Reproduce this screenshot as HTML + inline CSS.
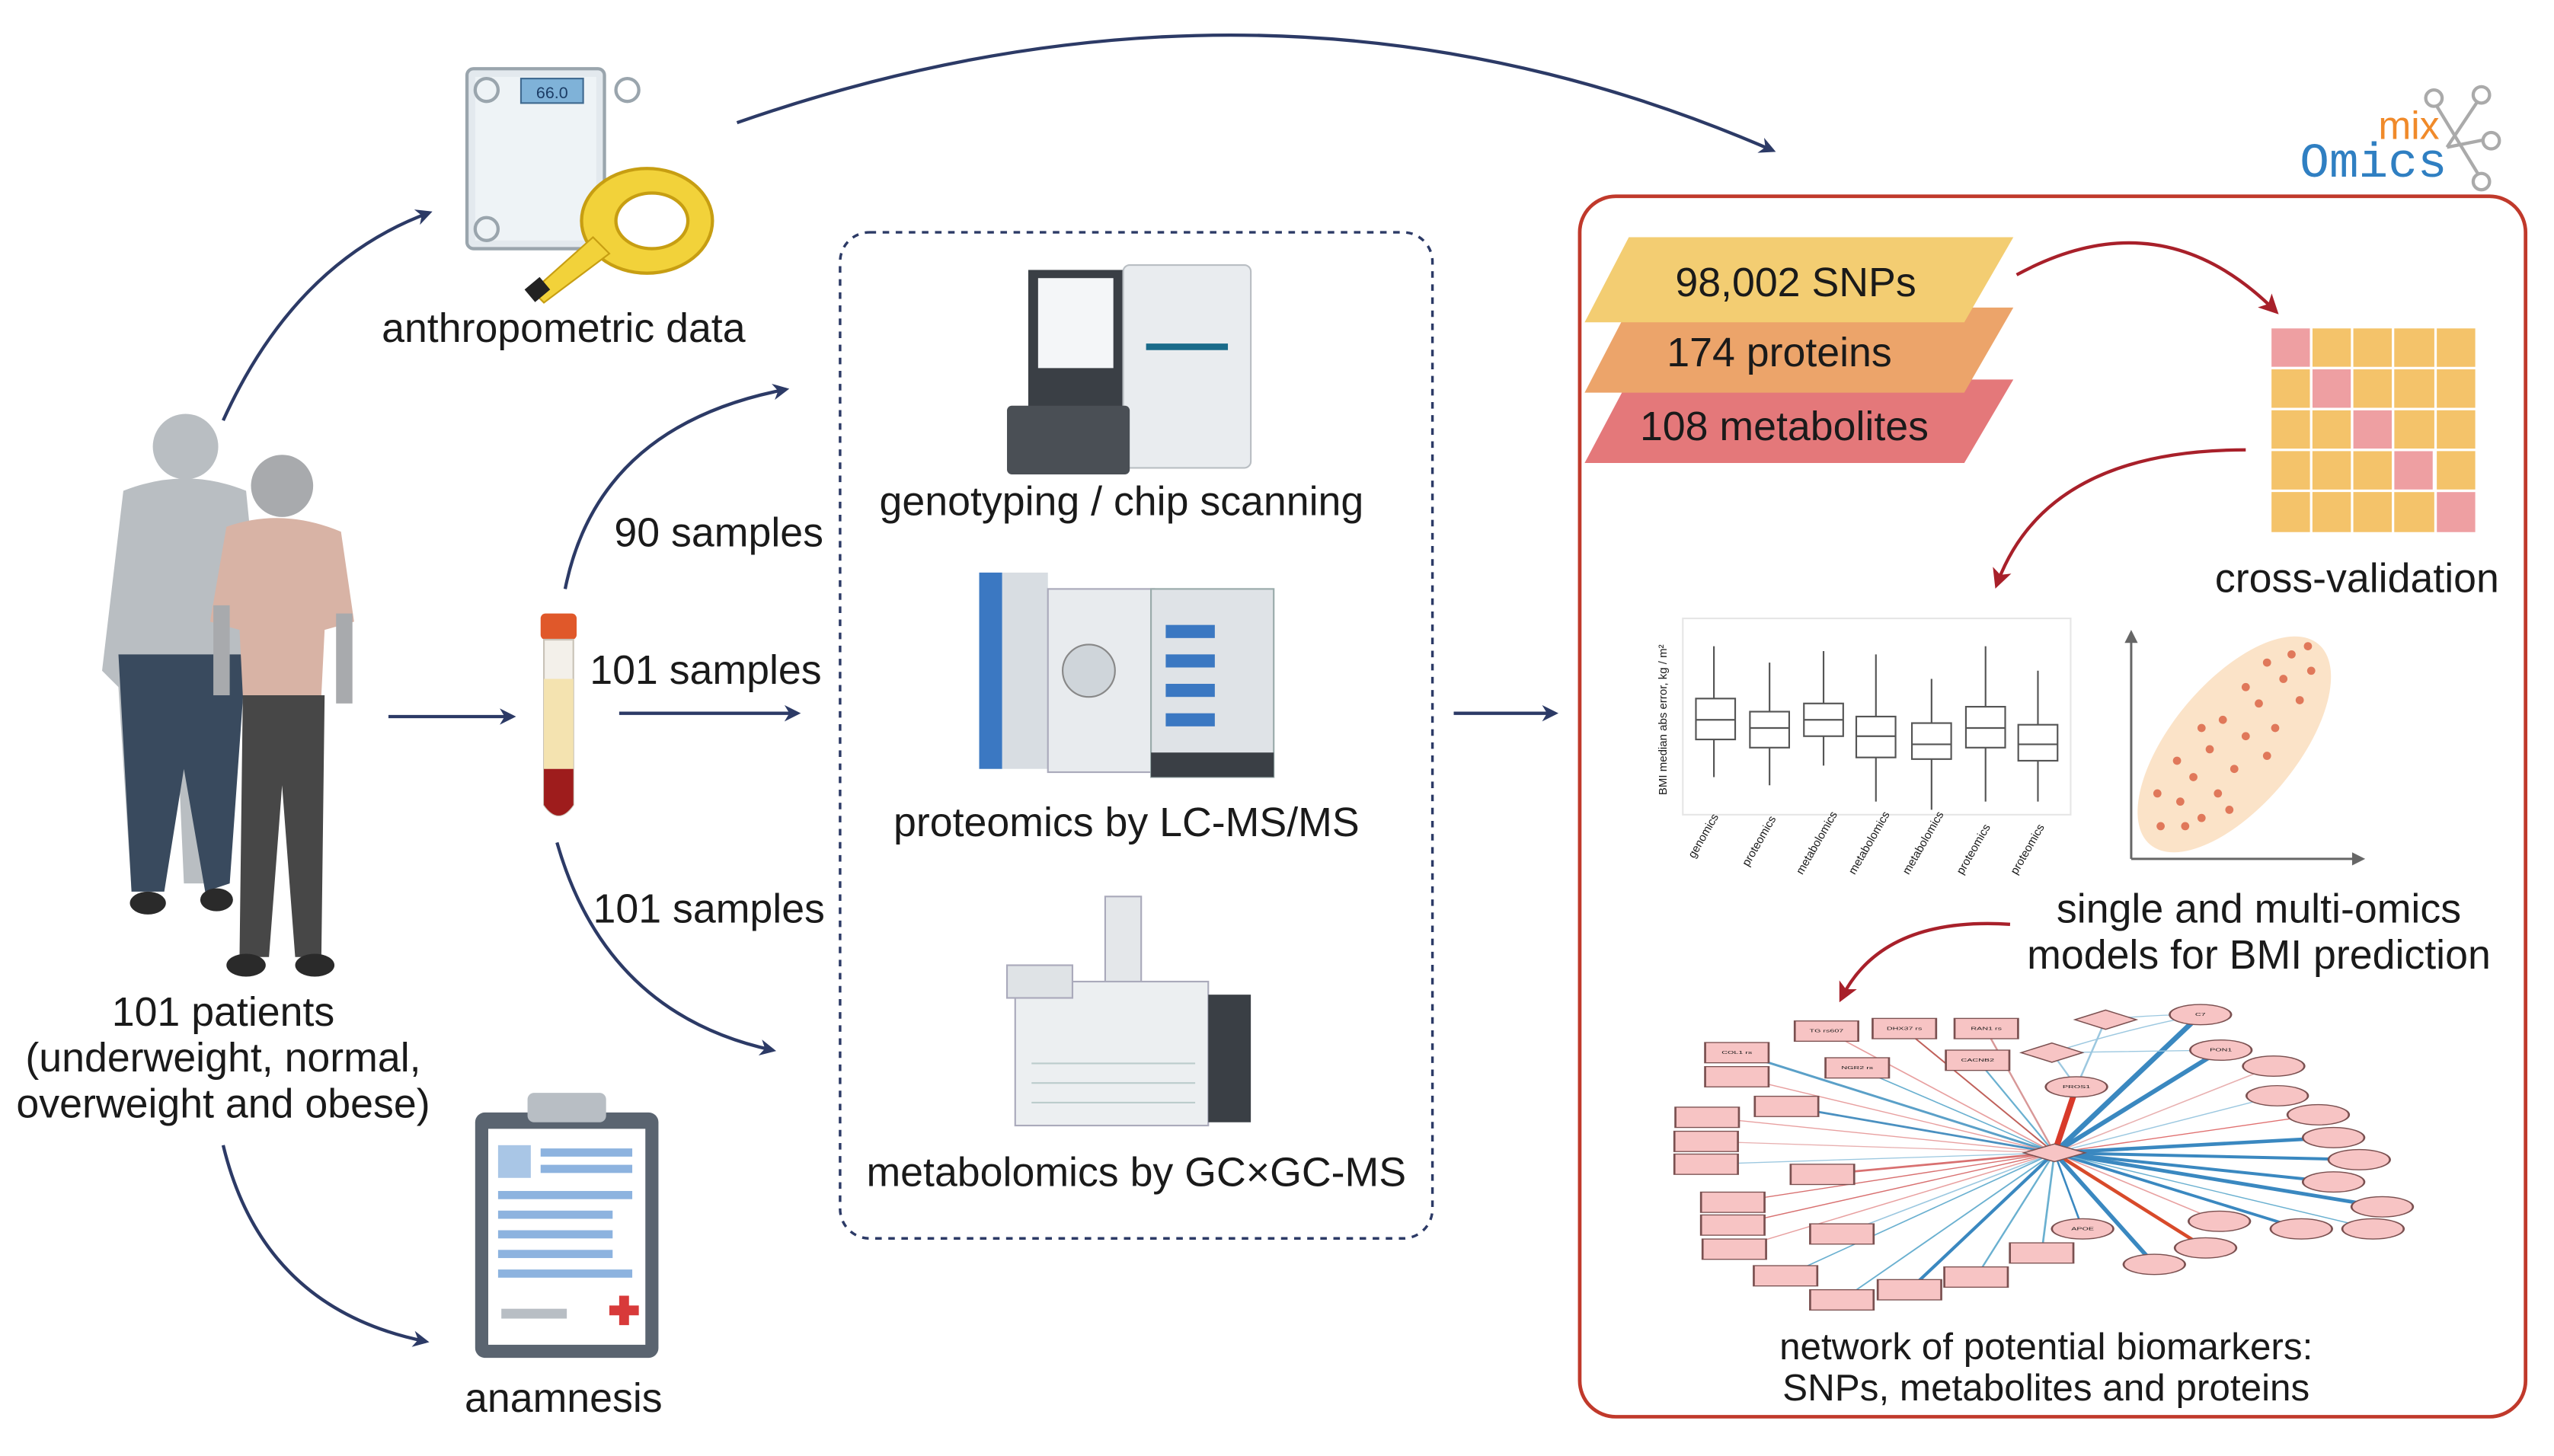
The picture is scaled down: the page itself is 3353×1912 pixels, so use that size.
<!DOCTYPE html>
<html><head><meta charset="utf-8"><style>
html,body{margin:0;padding:0;background:#fff;width:3353px;height:1912px;overflow:hidden}
svg{display:block}
text{font-family:"Liberation Sans",sans-serif;fill:#1a1a1a}
</style></head><body>
<svg width="3353" height="1912" viewBox="0 0 1560 890" xmlns="http://www.w3.org/2000/svg">
<defs>
<marker id="ab" markerWidth="10" markerHeight="10" refX="8" refY="5" orient="auto" markerUnits="userSpaceOnUse"><path d="M0,0 L10,5 L0,10 L3,5 z" fill="#2c3a66"/></marker>
<marker id="ar" markerWidth="12" markerHeight="12" refX="9" refY="6" orient="auto" markerUnits="userSpaceOnUse"><path d="M0,0 L12,6 L0,12 L3,6 z" fill="#a8202a"/></marker>
</defs>

<g fill="none" stroke="#2c3a66" stroke-width="2" marker-end="url(#ab)">
<path d="M450,75 Q780,-40 1083,92"/>
<path d="M136,257 Q180,160 262,130"/>
<path d="M136,700 Q160,800 260,820"/>
<path d="M237,438 L313,438"/>
<path d="M345,360 Q365,260 480,238"/>
<path d="M378,436 L487,436"/>
<path d="M340,515 Q370,620 472,642"/>
<path d="M888,436 L950,436"/>
</g>

<!-- scale -->
<rect x="285" y="42" width="84" height="110" rx="4" fill="#e3e9ee" stroke="#9aa5ad" stroke-width="2"/>
<rect x="290" y="47" width="74" height="100" fill="#eef3f6"/>
<circle cx="297" cy="55" r="7" fill="none" stroke="#9aa5ad" stroke-width="2"/>
<circle cx="383" cy="55" r="7" fill="none" stroke="#9aa5ad" stroke-width="2"/>
<circle cx="297" cy="140" r="7" fill="none" stroke="#9aa5ad" stroke-width="2"/>
<rect x="318" y="48" width="38" height="15" fill="#7fb2d8" stroke="#406a90"/>
<text x="337" y="60" font-size="10" text-anchor="middle" style="fill:#1c3d66">66.0</text>
<ellipse cx="395" cy="135" rx="40" ry="32" fill="#f2d23a" stroke="#c79e12" stroke-width="2"/>
<ellipse cx="398" cy="135" rx="22" ry="17" fill="#fff" stroke="#c79e12" stroke-width="2"/>
<path d="M362,145 L325,178 L332,185 L372,155 z" fill="#f2d23a" stroke="#c79e12"/>
<rect x="322" y="172" width="12" height="10" fill="#222" transform="rotate(-40 328 177)"/>
<text x="344" y="209" font-size="25" text-anchor="middle">anthropometric data</text>

<!-- people -->
<g>
<circle cx="113" cy="273" r="20" fill="#b9bec2"/>
<path d="M75,300 Q113,285 150,300 L160,400 L140,410 L138,520 L128,540 L112,540 L108,450 L100,540 L80,545 L72,420 L62,410 Z" fill="#b9bec2"/>
<path d="M72,400 L150,400 L140,540 L125,545 L112,470 L100,545 L80,545 Z" fill="#394a5e"/>
<ellipse cx="90" cy="552" rx="11" ry="7" fill="#2a2a2a"/>
<ellipse cx="132" cy="550" rx="10" ry="7" fill="#2a2a2a"/>
<circle cx="172" cy="297" r="19" fill="#a8aaad"/>
<path d="M138,322 Q172,310 208,325 L216,380 L198,385 L196,425 L148,425 L146,385 L128,380 Z" fill="#d8b3a5"/>
<rect x="130" y="370" width="10" height="55" fill="#a8aaad"/>
<rect x="205" y="375" width="10" height="55" fill="#a8aaad"/>
<path d="M148,425 L198,425 L196,585 L180,585 L172,480 L164,585 L146,585 Z" fill="#474747"/>
<ellipse cx="150" cy="590" rx="12" ry="7" fill="#2a2a2a"/>
<ellipse cx="192" cy="590" rx="12" ry="7" fill="#2a2a2a"/>
</g>
<text x="136" y="627" font-size="25" text-anchor="middle">101 patients</text>
<text x="136" y="655" font-size="25" text-anchor="middle">(underweight, normal,</text>
<text x="136" y="683" font-size="25" text-anchor="middle">overweight and obese)</text>

<!-- tube -->
<rect x="330" y="375" width="22" height="16" rx="3" fill="#e0582a"/>
<path d="M332,391 L350,391 L350,492 Q341,505 332,492 Z" fill="#f3f0ea" stroke="#c9c3b8"/>
<path d="M332,415 L350,415 L350,470 L332,470 Z" fill="#f4e3b0"/>
<path d="M332,470 L350,470 L350,492 Q341,505 332,492 Z" fill="#9e1c1c"/>
<text x="375" y="334" font-size="25">90 samples</text>
<text x="360" y="418" font-size="25">101 samples</text>
<text x="362" y="564" font-size="25">101 samples</text>

<!-- clipboard -->
<rect x="290" y="680" width="112" height="150" rx="6" fill="#5a6470"/>
<rect x="298" y="690" width="96" height="132" fill="#fff"/>
<rect x="322" y="668" width="48" height="18" rx="4" fill="#b8bec4"/>
<rect x="304" y="700" width="20" height="20" fill="#a9c6e6"/>
<g fill="#8db3df"><rect x="330" y="702" width="56" height="5"/><rect x="330" y="712" width="56" height="5"/><rect x="304" y="728" width="82" height="5"/><rect x="304" y="740" width="70" height="5"/><rect x="304" y="752" width="70" height="5"/><rect x="304" y="764" width="70" height="5"/><rect x="304" y="776" width="82" height="5"/></g>
<rect x="306" y="800" width="40" height="6" fill="#b8bec4"/>
<path d="M372,798 h6 v-6 h6 v6 h6 v6 h-6 v6 h-6 v-6 h-6 z" fill="#d83a3a"/>
<text x="344" y="863" font-size="25" text-anchor="middle">anamnesis</text>

<!-- dashed box -->
<rect x="513" y="142" width="362" height="615" rx="18" fill="none" stroke="#2c3a66" stroke-width="1.6" stroke-dasharray="4,4"/>
<rect x="628" y="165" width="58" height="85" fill="#3a3f45"/>
<rect x="634" y="170" width="46" height="55" fill="#f4f6f8"/>
<rect x="686" y="162" width="78" height="124" rx="4" fill="#e9ecef" stroke="#b9bec3"/>
<rect x="615" y="248" width="75" height="42" rx="3" fill="#4a4f55"/>
<rect x="700" y="210" width="50" height="4" fill="#1a6b8a"/>
<text x="685" y="315" font-size="25" text-anchor="middle">genotyping / chip scanning</text>
<rect x="598" y="350" width="42" height="120" fill="#d8dde2"/>
<rect x="598" y="350" width="14" height="120" fill="#3b78c2"/>
<rect x="640" y="360" width="65" height="112" fill="#e8ebee" stroke="#aab"/>
<circle cx="665" cy="410" r="16" fill="#cfd5da" stroke="#888"/>
<rect x="703" y="360" width="75" height="115" fill="#dfe3e7" stroke="#9aa"/>
<g fill="#3b78c2"><rect x="712" y="382" width="30" height="8"/><rect x="712" y="400" width="30" height="8"/><rect x="712" y="418" width="30" height="8"/><rect x="712" y="436" width="30" height="8"/></g>
<rect x="703" y="460" width="75" height="15" fill="#3a3f45"/>
<text x="688" y="511" font-size="25" text-anchor="middle">proteomics by LC-MS/MS</text>
<rect x="675" y="548" width="22" height="60" fill="#e4e7ea" stroke="#aab"/>
<rect x="620" y="600" width="118" height="88" fill="#eceff1" stroke="#aab"/>
<rect x="738" y="608" width="26" height="78" fill="#3a3f45"/>
<g stroke="#bcc" fill="none"><path d="M630,650 h100 M630,662 h100 M630,674 h100"/></g>
<rect x="615" y="590" width="40" height="20" fill="#dfe3e6" stroke="#aab"/>
<text x="694" y="725" font-size="25" text-anchor="middle">metabolomics by GC×GC-MS</text>

<!-- red box -->
<rect x="965" y="120" width="578" height="746" rx="22" fill="none" stroke="#c0392b" stroke-width="2.2"/>
<g stroke="#aaa" stroke-width="2" fill="#fff">
<line x1="1487" y1="62" x2="1515" y2="108"/><line x1="1515" y1="60" x2="1495" y2="90"/><line x1="1495" y1="90" x2="1520" y2="85"/>
<circle cx="1487" cy="60" r="5"/><circle cx="1516" cy="58" r="5"/><circle cx="1522" cy="86" r="5"/><circle cx="1516" cy="111" r="5"/>
</g>
<text x="1453" y="85" font-size="24" style="fill:#f08a2a">mix</text>
<text x="1405" y="108" font-size="30" style="fill:#2f7fc2;font-family:'Liberation Mono',monospace">Omics</text>

<path d="M995,232 L1230,232 L1200,283 L968,283 Z" fill="#e4787a"/>
<path d="M995,188 L1230,188 L1200,240 L968,240 Z" fill="#eca46a"/>
<path d="M995,145 L1230,145 L1200,197 L968,197 Z" fill="#f3cd72"/>
<text x="1097" y="181" font-size="25" text-anchor="middle">98,002 SNPs</text>
<text x="1087" y="224" font-size="25" text-anchor="middle">174 proteins</text>
<text x="1090" y="269" font-size="25" text-anchor="middle">108 metabolites</text>

<g fill="none" stroke="#a8202a" stroke-width="2" marker-end="url(#ar)">
<path d="M1232,168 Q1320,120 1390,190"/>
<path d="M1372,275 Q1250,275 1220,357"/>
<path d="M1228,565 Q1150,560 1125,610"/>
</g>

<g stroke="#fff" stroke-width="1.5">
<rect x="1387" y="200" width="126" height="126" fill="#f4c36a"/>
<rect x="1387" y="200" width="25" height="25" fill="#ee9fa2"/>
<rect x="1412" y="225" width="25" height="25" fill="#ee9fa2"/>
<rect x="1437" y="250" width="25" height="25" fill="#ee9fa2"/>
<rect x="1462" y="275" width="25" height="25" fill="#ee9fa2"/>
<rect x="1488" y="300" width="25" height="26" fill="#ee9fa2"/>
<path d="M1412,200 v126 M1437,200 v126 M1462,200 v126 M1488,200 v126 M1387,225 h126 M1387,250 h126 M1387,275 h126 M1387,300 h126" fill="none"/>
</g>
<text x="1440" y="362" font-size="25" text-anchor="middle">cross-validation</text>

<rect x="1028" y="378" width="237" height="120" fill="#fff" stroke="#e6e6e6"/>
<text x="1018" y="440" font-size="7" transform="rotate(-90 1018 440)" text-anchor="middle">BMI median abs error, kg / m²</text>
<g stroke="#555" stroke-width="1" fill="#fff">
<path d="M1047,395 v80 M1081,405 v75 M1114,398 v70 M1146,400 v90 M1180,415 v80 M1213,395 v95 M1245,410 v80"/>
<rect x="1036" y="427" width="24" height="25"/><rect x="1069" y="435" width="24" height="22"/><rect x="1102" y="430" width="24" height="20"/>
<rect x="1134" y="438" width="24" height="25"/><rect x="1168" y="442" width="24" height="22"/><rect x="1201" y="432" width="24" height="25"/><rect x="1233" y="443" width="24" height="22"/>
<path d="M1036,440 h24 M1069,445 h24 M1102,440 h24 M1134,450 h24 M1168,455 h24 M1201,445 h24 M1233,455 h24"/>
</g>
<g font-size="7" style="fill:#444">
<text transform="translate(1035,525) rotate(-60)">genomics</text>
<text transform="translate(1068,530) rotate(-60)">proteomics</text>
<text transform="translate(1101,535) rotate(-60)">metabolomics</text>
<text transform="translate(1133,535) rotate(-60)">metabolomics</text>
<text transform="translate(1166,535) rotate(-60)">metabolomics</text>
<text transform="translate(1199,535) rotate(-60)">proteomics</text>
<text transform="translate(1232,535) rotate(-60)">proteomics</text>
</g>
<g stroke="#666" stroke-width="1.4" fill="none"><path d="M1302,525 V390 M1302,525 H1440"/></g>
<path d="M1298,393 l4,-8 l4,8 z M1437,521 l8,4 l-8,4 z" fill="#666"/>
<ellipse cx="1365" cy="455" rx="80" ry="38" transform="rotate(-50 1365 455)" fill="#fbe3c8"/>
<g fill="#e0785a">
<circle cx="1320" cy="505" r="2.5"/><circle cx="1332" cy="490" r="2.5"/><circle cx="1318" cy="485" r="2.5"/><circle cx="1345" cy="500" r="2.5"/><circle cx="1340" cy="475" r="2.5"/><circle cx="1355" cy="485" r="2.5"/><circle cx="1330" cy="465" r="2.5"/><circle cx="1350" cy="458" r="2.5"/><circle cx="1365" cy="470" r="2.5"/><circle cx="1372" cy="450" r="2.5"/><circle cx="1358" cy="440" r="2.5"/><circle cx="1380" cy="430" r="2.5"/><circle cx="1390" cy="445" r="2.5"/><circle cx="1372" cy="420" r="2.5"/><circle cx="1395" cy="415" r="2.5"/><circle cx="1405" cy="428" r="2.5"/><circle cx="1400" cy="400" r="2.5"/><circle cx="1412" cy="410" r="2.5"/><circle cx="1385" cy="405" r="2.5"/><circle cx="1345" cy="445" r="2.5"/><circle cx="1335" cy="505" r="2.5"/><circle cx="1362" cy="495" r="2.5"/><circle cx="1385" cy="462" r="2.5"/><circle cx="1410" cy="395" r="2.5"/>
</g>
<text x="1380" y="564" font-size="25" text-anchor="middle">single and multi-omics</text>
<text x="1380" y="592" font-size="25" text-anchor="middle">models for BMI prediction</text>

<!-- network -->
<g transform="translate(1000,604.7) scale(0.313,0.155)">
<g fill="none" stroke-width="4">
<path stroke="#e8a0a0" d="M815,645 L370,165"/><path stroke="#c0605a" d="M815,645 L520,155"/><path stroke="#d89898" d="M815,645 L680,155"/>
<path stroke="#5aa0c8" stroke-width="8" d="M815,645 L195,250"/><path stroke="#6ab0d0" d="M815,645 L428,310"/><path stroke="#6ab0d0" d="M815,645 L665,280"/>
<path stroke="#e8a0a0" d="M815,645 L195,345"/><path stroke="#4a90c0" stroke-width="8" d="M815,645 L292,462"/><path stroke="#e8a0a0" d="M815,645 L137,505"/>
<path stroke="#e8b0b0" d="M815,645 L135,600"/><path stroke="#9cc8e0" d="M815,645 L135,690"/><path stroke="#d87070" stroke-width="8" d="M815,645 L362,730"/>
<path stroke="#d87070" d="M815,645 L187,840"/><path stroke="#d87070" d="M815,645 L187,930"/><path stroke="#e8a0a0" d="M815,645 L190,1025"/>
<path stroke="#9cc8e0" d="M815,645 L400,965"/><path stroke="#6ab0d0" d="M815,645 L290,1130"/><path stroke="#6ab0d0" d="M815,645 L400,1225"/>
<path stroke="#3a88c0" stroke-width="8" d="M815,645 L532,1185"/><path stroke="#6ab0d0" d="M815,645 L662,1135"/><path stroke="#6ab0d0" d="M815,645 L790,1040"/>
<path stroke="#3a88c0" stroke-width="13" d="M815,645 L1100,100"/><path stroke="#3a88c0" stroke-width="13" d="M815,645 L1140,240"/><path stroke="#e8b0b0" d="M815,645 L1243,303"/>
<path stroke="#9cc8e0" d="M815,645 L1250,420"/><path stroke="#e07070" d="M815,645 L1330,495"/><path stroke="#3a88c0" stroke-width="14" d="M815,645 L1360,585"/>
<path stroke="#3a88c0" stroke-width="12" d="M815,645 L1410,672"/><path stroke="#3a88c0" stroke-width="12" d="M815,645 L1360,760"/><path stroke="#3a88c0" stroke-width="14" d="M815,645 L1455,858"/>
<path stroke="#e8a0a0" d="M815,645 L1137,915"/><path stroke="#3a88c0" stroke-width="10" d="M815,645 L1297,945"/><path stroke="#6ab0d0" d="M815,645 L1437,945"/>
<path stroke="#d84a2a" stroke-width="10" d="M815,645 L1110,1020"/><path stroke="#3a88c0" stroke-width="10" d="M815,645 L1010,1085"/><path stroke="#3a88c0" d="M815,645 L870,945"/>
<path stroke="#d83a2a" stroke-width="12" d="M815,645 L858,385"/>
<path stroke="#9cc8e0" d="M915,120 Q1000,100 1100,100 M810,250 Q950,160 1100,100 M810,250 L1140,240 M915,120 L858,385 M810,250 L858,385"/>
</g>
<g fill="#f7c4c4" stroke="#7a5050" stroke-width="4">
<rect x="308" y="125" width="124" height="80"/><rect x="460" y="115" width="124" height="80"/><rect x="620" y="115" width="124" height="80"/>
<rect x="133" y="210" width="124" height="80"/><rect x="368" y="270" width="124" height="80"/><rect x="603" y="240" width="124" height="80"/>
<rect x="133" y="305" width="124" height="80"/><rect x="230" y="422" width="124" height="80"/><rect x="75" y="465" width="124" height="80"/>
<rect x="73" y="560" width="124" height="80"/><rect x="73" y="650" width="124" height="80"/><rect x="300" y="690" width="124" height="80"/>
<rect x="125" y="800" width="124" height="80"/><rect x="125" y="890" width="124" height="80"/><rect x="128" y="985" width="124" height="80"/>
<rect x="338" y="925" width="124" height="80"/><rect x="228" y="1090" width="124" height="80"/><rect x="338" y="1185" width="124" height="80"/>
<rect x="470" y="1145" width="124" height="80"/><rect x="600" y="1095" width="124" height="80"/><rect x="728" y="1000" width="124" height="80"/>
<ellipse cx="1100" cy="100" rx="60" ry="40"/><ellipse cx="1140" cy="240" rx="60" ry="40"/><ellipse cx="1243" cy="303" rx="60" ry="40"/>
<ellipse cx="1250" cy="420" rx="60" ry="40"/><ellipse cx="1330" cy="495" rx="60" ry="40"/><ellipse cx="1360" cy="585" rx="60" ry="40"/>
<ellipse cx="1410" cy="672" rx="60" ry="40"/><ellipse cx="1360" cy="760" rx="60" ry="40"/><ellipse cx="1455" cy="858" rx="60" ry="40"/>
<ellipse cx="1137" cy="915" rx="60" ry="40"/><ellipse cx="1297" cy="945" rx="60" ry="40"/><ellipse cx="1437" cy="945" rx="60" ry="40"/>
<ellipse cx="1110" cy="1020" rx="60" ry="40"/><ellipse cx="1010" cy="1085" rx="60" ry="40"/><ellipse cx="870" cy="945" rx="60" ry="40"/>
<ellipse cx="858" cy="385" rx="60" ry="40"/>
<path d="M915,82 L975,120 L915,158 L855,120 Z"/><path d="M810,212 L870,250 L810,288 L750,250 Z"/>
<path d="M815,610 L875,645 L815,680 L755,645 Z"/>
</g>
<g font-size="16" text-anchor="middle" style="fill:#6a3a3a">
<text x="370" y="170">TG rs607</text><text x="522" y="160">DHX37 rs</text><text x="682" y="160">RAN1 rs</text>
<text x="195" y="255">COL1 rs</text><text x="430" y="315">NGR2 rs</text><text x="665" y="285">CACNB2</text>
<text x="1100" y="105">C7</text><text x="1140" y="245">PON1</text><text x="858" y="390">PROS1</text><text x="870" y="950">APOE</text>
</g>
</g>
<text x="1250" y="831" font-size="23" text-anchor="middle">network of potential biomarkers:</text>
<text x="1250" y="856" font-size="23" text-anchor="middle">SNPs, metabolites and proteins</text>
</svg>
</body></html>
